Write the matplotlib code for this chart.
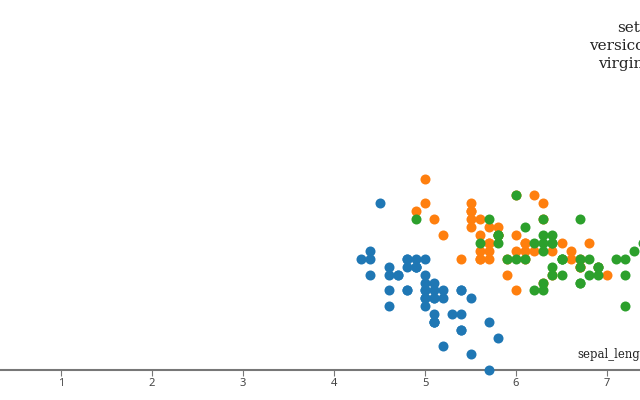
import matplotlib
matplotlib.use("Agg")
import matplotlib.pyplot as plt

species = ["setosa", "versicolor", "virginica"]
colors = ["#1f77b4", "#ff7f0e", "#2ca02c"]

setosa_sl = [5.1, 4.9, 4.7, 4.6, 5.0, 5.4, 4.6, 5.0, 4.4, 4.9, 5.4, 4.8, 4.8, 4.3, 5.8, 5.7, 5.4, 5.1, 5.7, 5.1,
             5.4, 5.1, 4.6, 5.1, 4.8, 5.0, 5.0, 5.2, 5.2, 4.7, 4.8, 5.4, 5.2, 5.5, 4.9, 5.0, 5.5, 4.9, 4.4, 5.1,
             5.0, 4.5, 4.4, 5.0, 5.1, 4.8, 5.1, 4.6, 5.3, 5.0]
setosa_sw = [3.5, 3.0, 3.2, 3.1, 3.6, 3.9, 3.4, 3.4, 2.9, 3.1, 3.7, 3.4, 3.0, 3.0, 4.0, 4.4, 3.9, 3.5, 3.8, 3.8,
             3.4, 3.7, 3.6, 3.3, 3.4, 3.0, 3.4, 3.5, 3.4, 3.2, 3.1, 3.4, 4.1, 4.2, 3.1, 3.2, 3.5, 3.1, 3.0, 3.4,
             3.5, 2.3, 3.2, 3.5, 3.8, 3.0, 3.8, 3.2, 3.7, 3.3]
versicolor_sl = [7.0, 6.4, 6.9, 5.5, 6.5, 5.7, 6.3, 4.9, 6.6, 5.2, 5.0, 5.9, 6.0, 6.1, 5.6, 6.7, 5.6, 5.8, 6.2, 5.6,
                 5.9, 6.1, 6.3, 6.1, 6.4, 6.6, 6.8, 6.7, 6.0, 5.7, 5.5, 5.5, 5.8, 6.0, 5.4, 6.0, 6.7, 6.3, 5.6, 5.5,
                 5.5, 6.1, 5.8, 5.0, 5.6, 5.7, 5.7, 6.2, 5.1, 5.7]
versicolor_sw = [3.2, 3.2, 3.1, 2.3, 2.8, 2.8, 3.3, 2.4, 2.9, 2.7, 2.0, 3.0, 2.2, 2.9, 2.9, 3.1, 3.0, 2.7, 2.2, 2.5,
                 3.2, 2.8, 2.5, 2.8, 2.9, 3.0, 2.8, 3.0, 2.9, 2.6, 2.4, 2.4, 2.7, 2.7, 3.0, 3.4, 3.1, 2.3, 3.0, 2.5,
                 2.6, 3.0, 2.6, 2.3, 2.7, 3.0, 2.9, 2.9, 2.5, 2.8]
virginica_sl = [6.3, 5.8, 7.1, 6.3, 6.5, 7.6, 4.9, 7.3, 6.7, 7.2, 6.5, 6.4, 6.8, 5.7, 5.8, 6.4, 6.5, 7.7, 7.7, 6.0,
                6.9, 5.6, 7.7, 6.3, 6.7, 7.2, 6.2, 6.1, 6.4, 7.2, 7.4, 7.9, 6.4, 6.3, 6.1, 7.7, 6.3, 6.4, 6.0, 6.9,
                6.7, 6.9, 5.8, 6.8, 6.7, 6.7, 6.3, 6.5, 6.2, 5.9]
virginica_sw = [3.3, 2.7, 3.0, 2.9, 3.0, 3.0, 2.5, 2.9, 2.5, 3.6, 3.2, 2.7, 3.0, 2.5, 2.8, 3.2, 3.0, 3.8, 2.6, 2.2,
                3.2, 2.8, 2.8, 2.7, 3.3, 3.2, 2.8, 3.0, 2.8, 3.0, 2.8, 3.8, 2.8, 2.8, 2.6, 3.0, 3.4, 3.1, 3.0, 3.1,
                3.1, 3.1, 2.7, 3.2, 3.3, 3.0, 2.5, 3.0, 3.4, 3.0]

xticks = [1, 2, 3, 4, 5, 6, 7]
x_label = "sepal_length"

W, H = 640, 400
fig = plt.figure(figsize=(W / 100, H / 100), dpi=100)
ax = fig.add_axes([0, 30 / H, 1, 370 / H])

# pixel mapping: x = -30 + 91*v ; y = 20 + 79.5*v (downward)
ax.set_xlim((0 + 30) / 91, (W + 30) / 91)
ax.set_ylim(4.4, -20 / 79.5)

for sl, sw, c in zip([setosa_sl, versicolor_sl, virginica_sl],
                     [setosa_sw, versicolor_sw, virginica_sw], colors):
    ax.scatter(sl, sw, s=52, color=c, linewidths=0, clip_on=False, zorder=3)

for s in ["top", "left", "right"]:
    ax.spines[s].set_visible(False)
ax.spines["bottom"].set_color("#777777")
ax.spines["bottom"].set_linewidth(1.5)
ax.set_yticks([])
ax.set_xticks(xticks)
ax.set_xticklabels([str(t) for t in xticks], fontsize=8, color="#444444", family="Noto Sans")
ax.tick_params(axis="x", length=4, width=0.8, color="#777777", pad=2)

fig.text(652 / W, (400 - 358) / H, x_label, ha="right", va="baseline",
         fontsize=8.4, family="DejaVu Serif", color="#222222")

for i, name in enumerate(species):
    fig.text(666 / W, (400 - (32 + 18 * i)) / H, name, ha="right", va="baseline",
             fontsize=11, family="DejaVu Serif", color="#222222")

fig.savefig("out.png", dpi=100)
